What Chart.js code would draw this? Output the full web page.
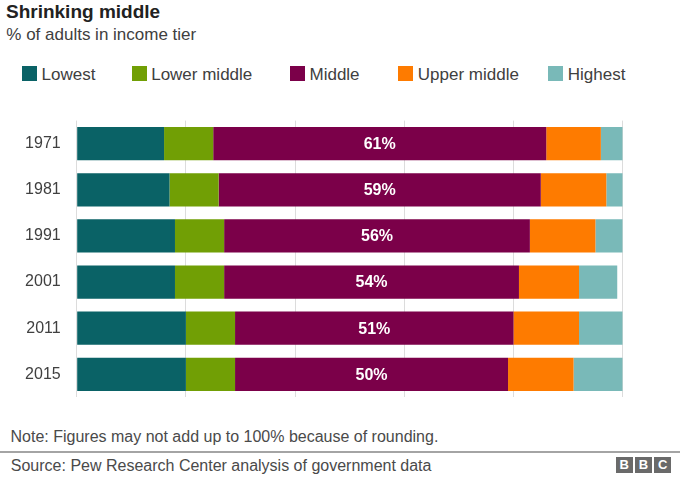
<!DOCTYPE html>
<html>
<head>
<meta charset="utf-8">
<title>Shrinking middle</title>
<script src="https://cdn.jsdelivr.net/npm/chart.js@4.4.0/dist/chart.umd.min.js"></script>
<style>
  html, body { margin: 0; padding: 0; background: #fff; }
  body {
    width: 680px; height: 479px; position: relative; overflow: hidden;
    font-family: "Liberation Sans", Arial, Helvetica, sans-serif;
  }
  .txt { position: absolute; white-space: nowrap; }
  #title { left: 6px; top: 2.2px; font-size: 19px; line-height: 19px; font-weight: bold; color: #222; }
  #subtitle { left: 6.3px; top: 26.3px; font-size: 17px; line-height: 17px; color: #404040; }
  .item { position: absolute; top: 66.3px; height: 15px; }
  .item .box { position: absolute; left: 0; top: 0; width: 15px; height: 15px; }
  .item .lbl { position: absolute; left: 19.5px; top: -0.6px; font-size: 17px; line-height: 17px; color: #404040; white-space: nowrap; }
  #plot { position: absolute; left: 0; top: 95px; width: 680px; height: 328px; }
  #note { left: 10.5px; top: 428.5px; font-size: 16px; line-height: 16px; color: #4a4a4a; }
  #rule { position: absolute; left: 0; top: 450.7px; width: 680px; height: 2px; background: #a4a4a4; }
  #source { left: 10.8px; top: 457.5px; font-size: 16px; line-height: 16px; color: #4a4a4a; }
  #bbc { position: absolute; left: 615.7px; top: 457.3px; height: 16px; }
  #bbc span {
    float: left; width: 17px; height: 16px; margin-right: 2.3px; background: #6a6a6a;
    color: #fff; font-weight: bold; font-size: 13px; line-height: 16px; text-align: center;
  }
</style>
</head>
<body>
<div id="title" class="txt">Shrinking middle</div>
<div id="subtitle" class="txt">% of adults in income tier</div>
<div id="legend"></div>
<div id="plot"><canvas id="chart"></canvas></div>
<div id="note" class="txt">Note: Figures may not add up to 100% because of rounding.</div>
<div id="rule"></div>
<div id="source" class="txt">Source: Pew Research Center analysis of government data</div>
<div id="bbc"><span>B</span><span>B</span><span>C</span></div>

<script>
// years (categories) and share of adults in each income tier, %
const years = ["1971", "1981", "1991", "2001", "2011", "2015"];
const tiers = ["Lowest", "Lower middle", "Middle", "Upper middle", "Highest"];

const lowest      = [16, 17, 18, 18, 20, 20];
const lowerMiddle = [9, 9, 9, 9, 9, 9];
const middle      = [61, 59, 56, 54, 51, 50];
const upperMiddle = [10, 12, 12, 11, 12, 12];
const highest     = [4, 3, 5, 7, 8, 9];

const tierColors = ["#0a6266", "#719f05", "#7b0049", "#fe7b00", "#79b9b8"];

// where each legend entry starts (layout only)
const legendX = [22, 131.7, 290, 398.3, 548.3];

const FONT = '"Liberation Sans", Arial, Helvetica, sans-serif';
const series = [lowest, lowerMiddle, middle, upperMiddle, highest];

// legend
const legend = document.getElementById("legend");
tiers.forEach(function (name, i) {
    const item = document.createElement("div");
    item.className = "item";
    item.style.left = legendX[i] + "px";
    item.innerHTML = '<span class="box" style="background:' + tierColors[i] + '"></span>' +
                     '<span class="lbl">' + name + '</span>';
    legend.appendChild(item);
});

// white percentage label in the middle segment
const middleLabels = {
    id: "middleLabels",
    afterDatasetsDraw(chart) {
        const ctx = chart.ctx;
        const meta = chart.getDatasetMeta(2);
        ctx.save();
        ctx.fillStyle = "#ffffff";
        ctx.font = "bold 16px " + FONT;
        ctx.textAlign = "center";
        ctx.textBaseline = "middle";
        meta.data.forEach(function (bar, i) {
            const cx = (bar.x + bar.base) / 2;
            ctx.fillText(middle[i] + "%", cx, bar.y + 1);
        });
        ctx.restore();
    }
};

new Chart(document.getElementById("chart"), {
    type: "bar",
    data: {
        labels: years,
        datasets: tiers.map(function (name, i) {
            return {
                label: name,
                data: series[i],
                backgroundColor: tierColors[i],
                borderWidth: 0,
                barPercentage: 0.9,
                categoryPercentage: 0.8,
            };
        }),
    },
    options: {
        indexAxis: "y",
        responsive: true,
        maintainAspectRatio: false,
        animation: false,
        layout: { padding: { left: 0, right: 57.3, top: 0, bottom: 0 } },
        plugins: {
            legend: { display: false },
            tooltip: { enabled: false },
        },
        scales: {
            x: {
                stacked: true,
                min: 0,
                max: 100,
                ticks: { display: false, stepSize: 20 },
                grid: { color: "#dcdcdc", drawTicks: false },
                border: { display: false },
            },
            y: {
                stacked: true,
                ticks: { color: "#404040", font: { size: 16, family: FONT }, padding: 16 },
                grid: { display: false, drawTicks: false },
                border: { display: false },
                afterFit: function (scale) { scale.width = 76.7; },
            },
        },
    },
    plugins: [middleLabels],
});
</script>
</body>
</html>
